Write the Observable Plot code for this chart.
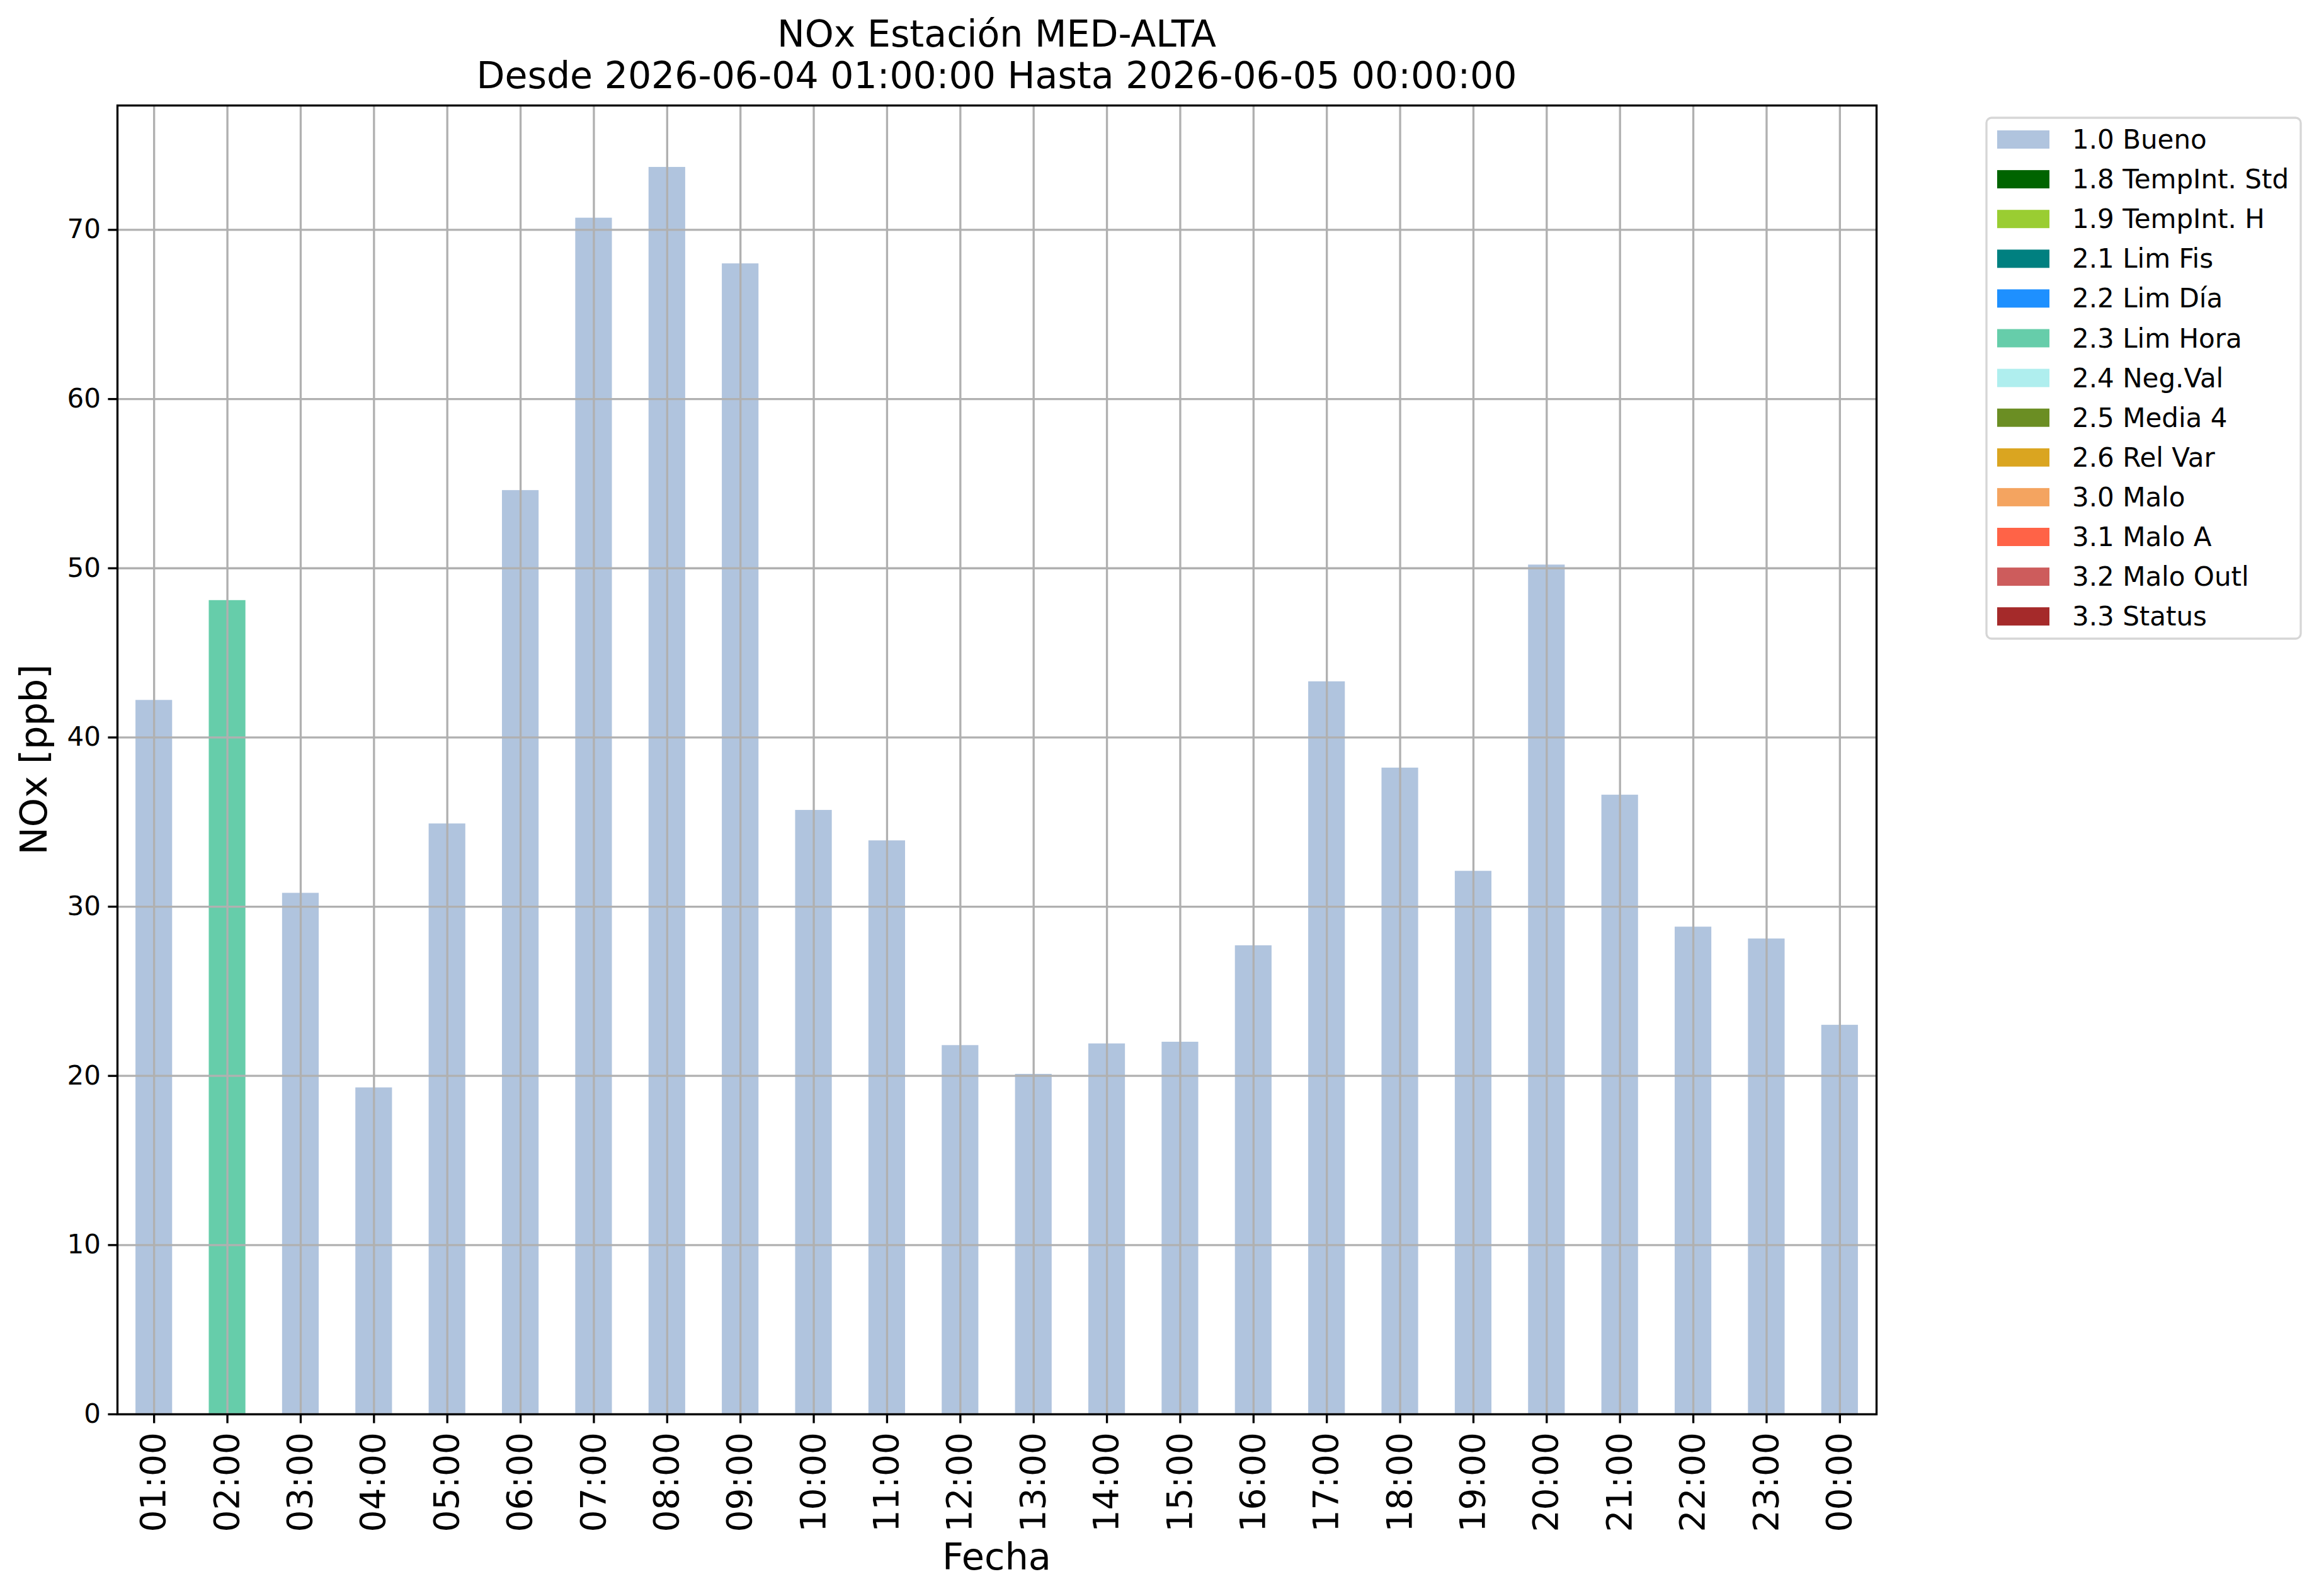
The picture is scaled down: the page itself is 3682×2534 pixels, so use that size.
<!DOCTYPE html>
<html><head><meta charset="utf-8">
<script src="https://cdn.jsdelivr.net/npm/d3@7"></script>
<script src="https://cdn.jsdelivr.net/npm/@observablehq/plot@0.6"></script>
<style>body{margin:0;background:#fff;} svg{display:block}</style>
</head><body><div id="chart"></div>
<script>
const hours = ["01:00","02:00","03:00","04:00","05:00","06:00","07:00","08:00","09:00","10:00","11:00","12:00","13:00","14:00","15:00","16:00","17:00","18:00","19:00","20:00","21:00","22:00","23:00","00:00"];
const values = [42.2,48.1,30.8,19.3,34.9,54.6,70.7,73.7,68.0,35.7,33.9,21.8,20.1,21.9,22.0,27.7,43.3,38.2,32.1,50.2,36.6,28.8,28.1,23.0];
const flags = ["1.0 Bueno","2.3 Lim Hora","1.0 Bueno","1.0 Bueno","1.0 Bueno","1.0 Bueno","1.0 Bueno","1.0 Bueno","1.0 Bueno","1.0 Bueno","1.0 Bueno","1.0 Bueno","1.0 Bueno","1.0 Bueno","1.0 Bueno","1.0 Bueno","1.0 Bueno","1.0 Bueno","1.0 Bueno","1.0 Bueno","1.0 Bueno","1.0 Bueno","1.0 Bueno","1.0 Bueno"];
const legendLabels = ["1.0 Bueno","1.8 TempInt. Std","1.9 TempInt. H","2.1 Lim Fis","2.2 Lim Día","2.3 Lim Hora","2.4 Neg.Val","2.5 Media 4","2.6 Rel Var","3.0 Malo","3.1 Malo A","3.2 Malo Outl","3.3 Status"];
const legendColors = ["#B0C4DE","#006400","#9ACD32","#008080","#1E90FF","#66CDAA","#AFEEEE","#6B8E23","#DAA520","#F4A460","#FF6347","#CD5C5C","#A52A2A"];
const yTicks = [0,10,20,30,40,50,60,70];
const titleLines = ["NOx Estación MED-ALTA","Desde 2026-06-04 01:00:00 Hasta 2026-06-05 00:00:00"];
const xLabel = "Fecha";
const yLabel = "NOx [ppb]";
const yMax = 77.35;

const data = hours.map((h,i)=>({hour:h, value:values[i], flag:flags[i]}));
const lw = 3.33;
const W = 3682, H = 2534, mL = 186, mR = 703, mT = 167, mB = 289;
const FONT = "DejaVu Sans";

const chart = Plot.plot({
  width: W, height: H,
  marginLeft: mL, marginRight: mR, marginTop: mT, marginBottom: mB,
  style: {fontFamily: FONT, background: "white", color: "black", overflow: "visible"},
  x: {type: "band", domain: hours, paddingInner: 0.5, paddingOuter: 0.25, round: false, label: null},
  y: {domain: [0, yMax], label: null},
  color: {domain: legendLabels, range: legendColors},
  marks: [
    Plot.barY(data, {x: "hour", y: "value", fill: "flag"}),
    Plot.gridY(yTicks, {stroke: "#b0b0b0", strokeOpacity: 1, strokeWidth: lw}),
    Plot.gridX(hours, {stroke: "#b0b0b0", strokeOpacity: 1, strokeWidth: lw}),
    Plot.axisY(yTicks, {tickSize: 14.6, tickPadding: 12, fontSize: 42, strokeWidth: lw, label: null, tickFormat: d => String(d)}),
    Plot.axisX(hours, {tickSize: 14.6, tickPadding: 14, fontSize: 55, tickRotate: -90, strokeWidth: lw, label: null}),
    Plot.frame({stroke: "black", strokeWidth: lw})
  ]
});
document.getElementById("chart").appendChild(chart);

const svg = d3.select(chart);
const cx = mL + (W - mL - mR) / 2;
svg.append("text").attr("x", cx).attr("y", 74).attr("text-anchor", "middle")
  .attr("font-family", FONT).attr("font-size", 58.5).attr("fill", "black").text(titleLines[0]);
svg.append("text").attr("x", cx).attr("y", 140).attr("text-anchor", "middle")
  .attr("font-family", FONT).attr("font-size", 58.5).attr("fill", "black").text(titleLines[1]);
svg.append("text").attr("x", cx).attr("y", 2492).attr("text-anchor", "middle")
  .attr("font-family", FONT).attr("font-size", 59).attr("fill", "black").text(xLabel);
const cy = mT + (H - mT - mB) / 2;
svg.append("text").attr("transform", `translate(74,${cy}) rotate(-90)`).attr("text-anchor", "middle")
  .attr("font-family", FONT).attr("font-size", 59).attr("fill", "black").text(yLabel);

// legend
const lg = svg.append("g").attr("text-anchor", "start");
lg.append("rect").attr("x", 3154).attr("y", 187).attr("width", 499).attr("height", 827)
  .attr("rx", 8).attr("fill", "white").attr("stroke", "#d6d6d6").attr("stroke-width", 3.3);
legendLabels.forEach((lab, i) => {
  const y0 = 207 + i * 63.1;
  lg.append("rect").attr("x", 3171).attr("y", y0).attr("width", 83).attr("height", 29).attr("fill", legendColors[i]);
  lg.append("text").attr("x", 3290).attr("y", y0 + 29).attr("text-anchor", "start").attr("font-family", FONT).attr("font-size", 42)
    .attr("fill", "black").text(lab);
});
</script>
</body></html>
